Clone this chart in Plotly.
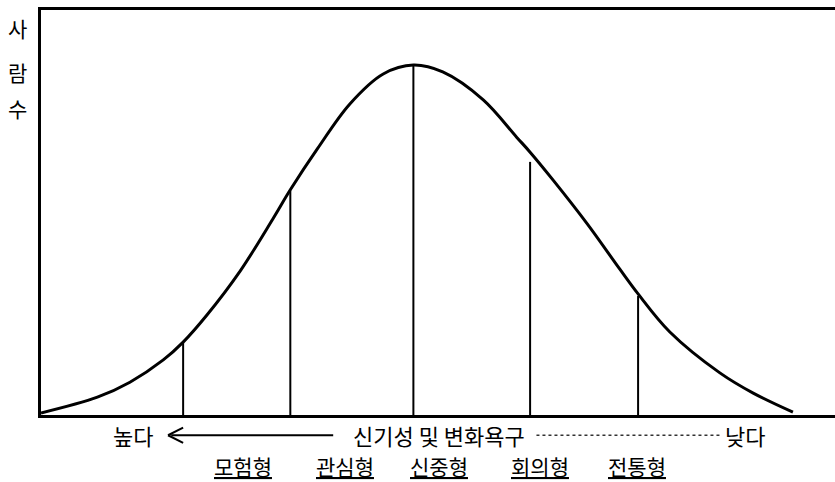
import plotly.graph_objects as go

# Bell-shaped distribution (x = 신기성 scale, y = 사람수)
curve_x = [0, 7.1, 11.2, 15.4, 17.9, 20.9, 25.1, 29.2, 31.4, 34.8, 38.9, 43.1,
           46.9, 50.6, 55.7, 59.9, 61.6, 64.5, 68.8, 72.9, 75.2, 79.2, 85.5, 89.7, 94.7]
curve_y = [0.5, 4.4, 8.1, 13.6, 18.0, 24.7, 35.6, 48.4, 55.6, 65.7, 76.8, 84.2,
           86.4, 84.7, 77.8, 68.6, 64.9, 58.0, 47.2, 36.0, 29.9, 20.5, 10.4, 5.4, 0.7]

# Vertical dividers between the types
divider_x = [17.9, 31.4, 46.9, 61.6, 75.2]
divider_top = [18.0, 55.4, 86.4, 62.5, 29.4]

# Type labels
type_labels = ["모험형", "관심형", "신중형", "회의형", "전통형"]
type_label_x = [25.4, 38.3, 50.1, 62.8, 75.1]

y_title_chars = ["사", "람", "수"]
axis_caption = "신기성 및 변화욕구"
left_word = "높다"
right_word = "낮다"

FONT = "Noto Sans CJK KR"

fig = go.Figure()

fig.add_trace(go.Scatter(x=curve_x, y=curve_y, mode="lines",
                         line=dict(color="black", width=3, shape="spline", smoothing=1.0),
                         hoverinfo="skip", showlegend=False))

for dx, dt in zip(divider_x, divider_top):
    fig.add_trace(go.Scatter(x=[dx, dx], y=[0, dt], mode="lines",
                             line=dict(color="black", width=2),
                             hoverinfo="skip", showlegend=False))

annotations = []
# y-axis title, one character per line
for ch, yy in zip(y_title_chars, [0.956, 0.847, 0.758]):
    annotations.append(dict(text=ch, xref="paper", yref="paper",
                            x=-0.030, y=yy, xanchor="center", yanchor="middle",
                            showarrow=False, font=dict(family=FONT, size=21, color="black")))

# bottom caption row
ROW1 = -0.050
ROW2 = -0.126
for txt, tx in [(left_word, 11.6), (axis_caption, 50.1), (right_word, 88.7)]:
    annotations.append(dict(text=txt, xref="x", yref="paper", x=tx, y=ROW1,
                            xanchor="center", yanchor="middle", showarrow=False, borderpad=0,
                            font=dict(family=FONT, size=22, color="black")))

for lab, lx in zip(type_labels, type_label_x):
    annotations.append(dict(text="<u>" + lab + "</u>", xref="x", yref="paper", x=lx, y=ROW2,
                            xanchor="center", yanchor="middle", showarrow=False, borderpad=0,
                            font=dict(family=FONT, size=21, color="black")))

shapes = [
    # arrow shaft and head (pointing left)
    dict(type="line", xref="x", yref="paper", x0=16.4, x1=36.8, y0=ROW1, y1=ROW1,
         line=dict(color="black", width=2)),
    dict(type="line", xref="x", yref="paper", x0=16.0, x1=17.9, y0=ROW1, y1=ROW1 + 0.019,
         line=dict(color="black", width=2)),
    dict(type="line", xref="x", yref="paper", x0=16.0, x1=17.9, y0=ROW1, y1=ROW1 - 0.019,
         line=dict(color="black", width=2)),
    # dotted continuation
    dict(type="line", xref="x", yref="paper", x0=62.4, x1=85.6, y0=ROW1, y1=ROW1,
         line=dict(color="#333333", width=1.5, dash="dot")),
]

fig.update_layout(
    width=835, height=482,
    margin=dict(l=41, r=0, t=10, b=67),
    paper_bgcolor="white", plot_bgcolor="white",
    xaxis=dict(range=[0, 100], showgrid=False, zeroline=False, showticklabels=False,
               ticks="", showline=True, linecolor="black", linewidth=3, mirror=True),
    yaxis=dict(range=[0, 100], showgrid=False, zeroline=False, showticklabels=False,
               ticks="", showline=True, linecolor="black", linewidth=3, mirror=False),
    annotations=annotations,
    shapes=shapes,
)

fig.write_html("out.html", config={"displayModeBar": False},
               post_script="document.body.style.margin='0px';")
